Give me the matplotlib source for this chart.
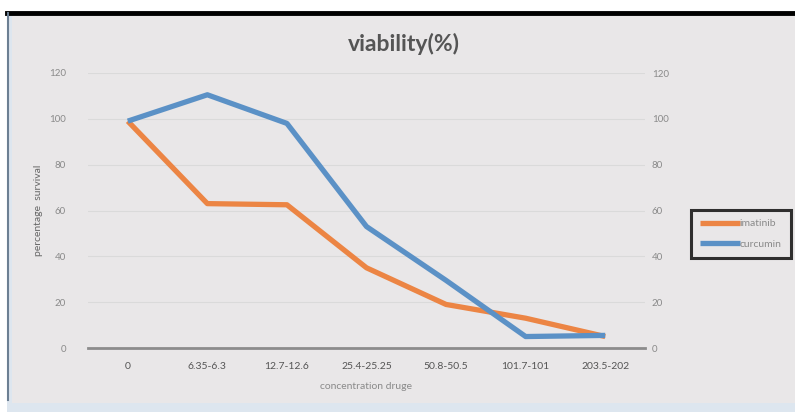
import matplotlib
matplotlib.use("Agg")
import matplotlib.pyplot as plt
from matplotlib.patches import Rectangle
from matplotlib.lines import Line2D

plt.rcParams['font.family'] = ['Lato', 'DejaVu Sans']

categories = ["0", "6.35-6.3", "12.7-12.6", "25.4-25.25", "50.8-50.5", "101.7-101", "203.5-202"]
imatinib = [99, 63, 62.5, 35, 19, 13, 5]
curcumin = [99, 110.5, 98, 53, 29.5, 5, 5.5]
yticks = [0, 20, 40, 60, 80, 100, 120]

W, H = 795, 412
fig = plt.figure(figsize=(W / 100, H / 100), dpi=100)
fig.patch.set_facecolor("white")

# background panels
fig.patches.append(Rectangle((7 / W, 0), 1 - 7 / W, (H - 13) / H, transform=fig.transFigure,
                             facecolor="#dde6ef", edgecolor="none", zorder=-20))
fig.patches.append(Rectangle((12 / W, (H - 403) / H), 1 - 12 / W, (403 - 13) / H,
                             transform=fig.transFigure, facecolor="#e9e7e8", edgecolor="none", zorder=-19))
fig.lines.append(Line2D([7 / W, 1], [(H - 13) / H, (H - 13) / H], transform=fig.transFigure,
                        color="black", lw=3.5, zorder=-18))
fig.lines.append(Line2D([8 / W, 8 / W], [(H - 400) / H, (H - 13) / H], transform=fig.transFigure,
                        color="#6c7f93", lw=1.5, zorder=-18))

ax = fig.add_axes([88 / W, (H - 348) / H, (645 - 88) / W, (348 - 73) / H])
ax.set_facecolor("none")
x = list(range(len(categories)))
ax.plot(x, imatinib, color="#ec8544", lw=3.8, solid_capstyle="butt", solid_joinstyle="round",
        label="imatinib", zorder=3)
ax.plot(x, curcumin, color="#5b91c6", lw=3.8, solid_capstyle="butt", solid_joinstyle="round",
        label="curcumin", zorder=4)

ax.set_xlim(-0.5, len(categories) - 0.5)
ax.set_ylim(0, 120)
ax.set_yticks(yticks)
ax.set_xticks(x)
ax.set_xticklabels(categories, fontsize=7.5, color="#555555")
ax.tick_params(axis="y", labelsize=7, labelcolor="#8a8a8a", length=0, pad=16)
ax.tick_params(axis="x", length=0, pad=10)
ax.grid(axis="y", color="#dadada", lw=0.8)
for s in ["top", "right", "left"]:
    ax.spines[s].set_visible(False)
ax.spines["bottom"].set_color("#8c8c8c")
ax.spines["bottom"].set_linewidth(2)
ax.set_axisbelow(True)

ax2 = ax.twinx()
ax2.set_ylim(0, 120)
ax2.set_yticks(yticks)
ax2.tick_params(axis="y", labelsize=7, labelcolor="#8a8a8a", length=0, pad=5)
for s in ax2.spines.values():
    s.set_visible(False)

ax.set_xlabel("concentration druge", fontsize=7.5, color="#8a8a8a", labelpad=8)
ax.set_ylabel("percentage  survival", fontsize=7.5, color="#666666", labelpad=4)
fig.text(404 / W, (H - 44) / H, "viability(%)", fontsize=16.5, fontweight="bold",
         color="#555555", ha="center", va="center")

leg = fig.legend(handles=ax.get_lines(), loc="center", bbox_to_anchor=(741 / W, (H - 234) / H),
                 fontsize=7.5, frameon=True, handlelength=3.8, handletextpad=0.0,
                 borderpad=0.9, labelspacing=1.1, borderaxespad=0)
leg.get_frame().set_edgecolor("black")
leg.get_frame().set_linewidth(2.2)
leg.get_frame().set_facecolor("#e9e7e8")
leg.get_frame().set_boxstyle("square", pad=0)
for t in leg.get_texts():
    t.set_color("#8a8a8a")

fig.savefig("out.png", dpi=100, facecolor=fig.get_facecolor())
